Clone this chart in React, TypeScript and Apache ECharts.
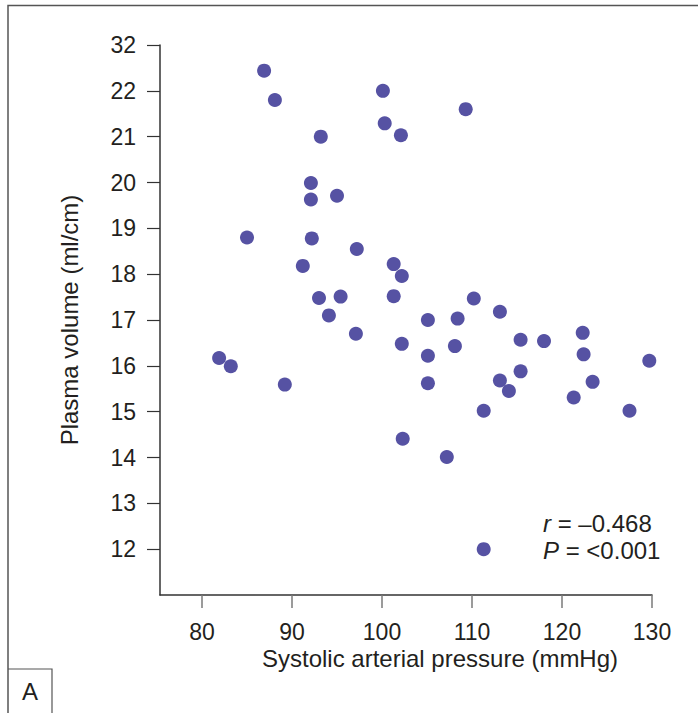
import React, { useEffect, useRef } from "react";
import * as echarts from "echarts";

const xTicks = [80, 90, 100, 110, 120, 130];
const yTicks = [12, 13, 14, 15, 16, 17, 18, 19, 20, 21, 22, 23];
const yTopLabel = "32";
const pressure = [
  86.9, 88.1, 93.2, 100.1, 100.3, 102.1, 109.3, 92.1, 92.1, 95.0, 85.0, 92.2,
  91.2, 97.2, 101.3, 102.2, 93.0, 95.4, 94.1, 101.3, 110.2, 105.1, 108.4, 113.1,
  97.1, 102.2, 105.1, 108.1, 115.4, 118.0, 122.3, 122.4, 81.9, 83.2, 89.2, 105.1,
  113.1, 115.4, 114.1, 121.3, 123.4, 129.7, 111.3, 127.5, 102.3, 107.2, 111.3,
];
const plasma = [
  22.44, 21.8, 21.0, 22.0, 21.29, 21.03, 21.6, 19.99, 19.63, 19.71, 18.8, 18.78,
  18.18, 18.55, 18.22, 17.96, 17.48, 17.51, 17.1, 17.52, 17.47, 17.0, 17.03, 17.18,
  16.7, 16.48, 16.22, 16.43, 16.57, 16.54, 16.72, 16.25, 16.17, 15.99, 15.59, 15.62,
  15.68, 15.88, 15.45, 15.31, 15.65, 16.11, 15.02, 15.02, 14.41, 14.01, 12.0,
];
const xTitle = "Systolic arterial pressure (mmHg)";
const yTitle = "Plasma volume (ml/cm)";
const rText = " = \u20130.468";
const pText = " = <0.001";
const panel = "A";

const FONT = "'Liberation Sans', Arial, sans-serif";
const TXT = "#231f20";

export default function App() {
  const ref = useRef<HTMLDivElement>(null);
  useEffect(() => {
    if (!ref.current) return;
    const chart = echarts.init(ref.current, null, { renderer: "svg" });
    const data = pressure.map((x, i) => [x, plasma[i]]);
    chart.setOption({
      animation: false,
      backgroundColor: "#ffffff",
      grid: { left: 160, top: 45, right: 46, bottom: 118 },
      xAxis: {
        type: "value",
        min: 75.333,
        max: 130,
        splitLine: { show: false },
        axisLine: { show: true, onZero: false, lineStyle: { color: "#333333", width: 1.5 } },
        axisTick: {
          show: true,
          customValues: xTicks,
          length: 13,
          lineStyle: { color: "#7a7a7a", width: 1.5 },
        },
        axisLabel: {
          customValues: xTicks,
          margin: 25,
          fontSize: 23,
          fontFamily: FONT,
          color: TXT,
        },
      },
      yAxis: {
        type: "value",
        min: 11,
        max: 23,
        interval: 1,
        splitLine: { show: false },
        axisLine: { show: true, onZero: false, lineStyle: { color: "#333333", width: 1.5 } },
        axisTick: {
          show: true,
          customValues: yTicks,
          length: 13,
          lineStyle: { color: "#333333", width: 1.2 },
        },
        axisLabel: {
          customValues: yTicks,
          margin: 24,
          fontSize: 23,
          fontFamily: FONT,
          color: TXT,
          formatter: (v: number) => (v === 23 ? yTopLabel : String(v)),
        },
        name: yTitle,
        nameLocation: "middle",
        nameGap: 79,
        nameTextStyle: { fontSize: 24, fontFamily: FONT, color: TXT },
      },
      graphic: [
        {
          type: "polyline",
          shape: { points: [[8, 713], [8, 5.5], [698, 5.5]] },
          style: { stroke: "#555555", lineWidth: 1.5, fill: "none" },
        },
        {
          type: "polyline",
          shape: { points: [[8, 669], [52, 669], [52, 713]] },
          style: { stroke: "#555555", lineWidth: 1.2, fill: "none" },
        },
        {
          type: "text",
          x: 30,
          y: 691,
          style: {
            text: panel,
            fontSize: 24,
            fontFamily: FONT,
            fill: TXT,
            align: "center",
            verticalAlign: "middle",
          },
        },
        {
          type: "text",
          x: 440,
          y: 658,
          style: {
            text: xTitle,
            fontSize: 24,
            fontFamily: FONT,
            fill: TXT,
            align: "center",
            verticalAlign: "middle",
          },
        },
        {
          type: "text",
          x: 543,
          y: 523,
          style: {
            text: "{i|r}" + rText,
            fontSize: 24,
            fontFamily: FONT,
            fill: TXT,
            verticalAlign: "middle",
            rich: { i: { fontStyle: "italic", fontSize: 24, fontFamily: FONT, fill: TXT } },
          },
        },
        {
          type: "text",
          x: 543,
          y: 550,
          style: {
            text: "{i|P}" + pText,
            fontSize: 24,
            fontFamily: FONT,
            fill: TXT,
            verticalAlign: "middle",
            rich: { i: { fontStyle: "italic", fontSize: 24, fontFamily: FONT, fill: TXT } },
          },
        },
      ],
      series: [
        {
          type: "scatter",
          data,
          symbol: "circle",
          symbolSize: 14,
          itemStyle: { color: "#5652a3", opacity: 1 },
        },
      ],
    });
    return () => chart.dispose();
  }, []);
  return (
    <div
      ref={ref}
      style={{ position: "fixed", left: 0, top: 0, width: 698, height: 713 }}
    />
  );
}
